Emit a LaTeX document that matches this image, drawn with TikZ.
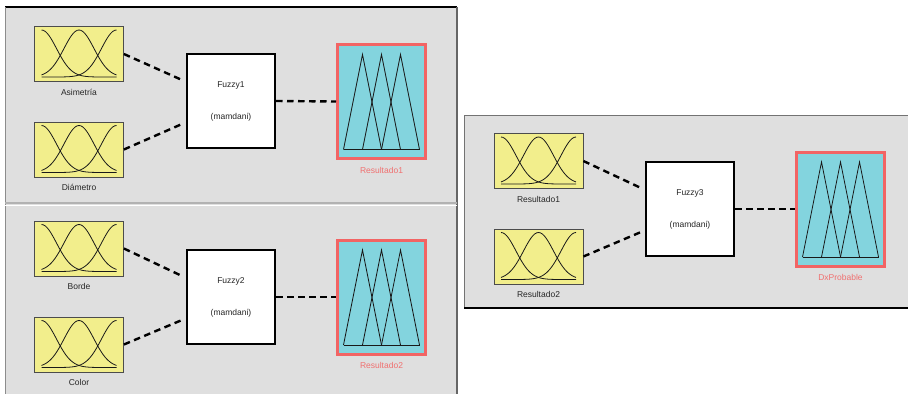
\documentclass[tikz,border=0pt]{standalone}
\usepackage{fontspec}
\setmainfont{Liberation Sans}
\definecolor{panelgray}{HTML}{DFDFDF}
\definecolor{mfyellow}{HTML}{F2EE8C}
\definecolor{mfcyan}{HTML}{83D4DE}
\definecolor{outred}{HTML}{F26464}
\definecolor{lblred}{HTML}{F07070}
\begin{document}
\begin{tikzpicture}[x=1pt,y=-1pt,
    every node/.style={font=\fontsize{8.5}{10}\selectfont,text=black!85},
    every label/.style={inner sep=1pt},label distance=6pt,
    inbox/.style={draw=black!70,line width=0.8pt,fill=mfyellow,
      minimum width=89pt,minimum height=55pt,inner sep=0pt},
    fisbox/.style={draw=black,line width=2pt,fill=white,
      minimum width=88pt,minimum height=94pt,align=center},
    outbox/.style={draw=outred,line width=3pt,fill=mfcyan,
      minimum width=88pt,minimum height=114pt,inner sep=0pt,label distance=4pt},
    mfline/.style={black!90,line width=0.8pt},
    link/.style={draw=black,line width=2.4pt,dash pattern=on 6.5pt off 4.5pt}]
  \useasboundingbox (0,0) rectangle (909,394);%

  % panels
  \fill[panelgray] (5,7) rectangle (457,394);%
  \draw[black,line width=1.5pt] (5,7) -- (457,7);%
  \draw[black!45,line width=1pt] (5,7) -- (5,394);%
  \draw[black!60,line width=1.5pt] (457,7) -- (457,394);%
  \draw[black!30,line width=2pt] (5,203) -- (457,203);%
  \draw[white,line width=1pt] (5,205) -- (457,205);%
  \fill[panelgray] (464,115) rectangle (908,308);%
  \draw[black!55,line width=1pt] (464,308) -- (464,115) -- (908,115);%
  \draw[black,line width=1.5pt] (464,308) -- (908,308);%

  % Fuzzy1
  \node[inbox,label=below:Asimetría] (asim) at (79,54) {};%
  \node[inbox,label=below:Diámetro] (diam) at (79,149.5) {};%
  \node[fisbox] (fz1) at (231,101) {Fuzzy1\\[22pt](mamdani)};%
  \node[outbox,label={[text=lblred]below:Resultado1}] (res1) at (381.5,101.5) {};%

  % Fuzzy2
  \node[inbox,label=below:Borde] (borde) at (79,248.5) {};%
  \node[inbox,label=below:Color] (col) at (79,344.5) {};%
  \node[fisbox] (fz2) at (231,297) {Fuzzy2\\[22pt](mamdani)};%
  \node[outbox,label={[text=lblred]below:Resultado2}] (res2) at (381.5,297) {};%

  % Fuzzy3
  \node[inbox,label=below:Resultado1] (r1in) at (538.5,161) {};%
  \node[inbox,label=below:Resultado2] (r2in) at (538.5,256.5) {};%
  \node[fisbox] (fz3) at (690,209) {Fuzzy3\\[22pt](mamdani)};%
  \node[outbox,label={[text=lblred]below:DxProbable}] (dxp) at (840.5,209) {};%

  % gaussian membership functions
  \foreach \n in {asim,diam,borde,col,r1in,r2in}{%
    \begin{scope}[shift={(\n.center)}]
      \foreach \c in {-37.5,0,37.5}
        \draw[mfline] plot[domain=-37.5:37.5,samples=41,smooth]
          (\x,{23-47*exp(-((\x-(\c))^2)/450)});%
    \end{scope}
  }%

  % triangular membership functions
  \foreach \n in {res1,res2,dxp}{%
    \begin{scope}[shift={(\n.center)}]
      \draw[mfline] (-38,48) -- (38,48);%
      \draw[mfline] (-38,48) -- (-19,-47) -- (0,48);%
      \draw[mfline] (-19,48) -- (0,-47) -- (19,48);%
      \draw[mfline] (0,48) -- (19,-47) -- (38,48);%
    \end{scope}
  }%

  \draw[link] (asim.east) -- ([xshift=-4pt,yshift=21pt]fz1.west);%
  \draw[link] (diam.east) -- ([xshift=-4pt,yshift=-23pt]fz1.west);%
  \draw[link] (fz1.east) -- (res1.west);%
  \draw[link] (borde.east) -- ([xshift=-4pt,yshift=21pt]fz2.west);%
  \draw[link] (col.east) -- ([xshift=-4pt,yshift=-23pt]fz2.west);%
  \draw[link] (fz2.east) -- (res2.west);%
  \draw[link] (r1in.east) -- ([xshift=-4pt,yshift=21pt]fz3.west);%
  \draw[link] (r2in.east) -- ([xshift=-4pt,yshift=-23pt]fz3.west);%
  \draw[link] (fz3.east) -- (dxp.west);%
\end{tikzpicture}
\end{document}
